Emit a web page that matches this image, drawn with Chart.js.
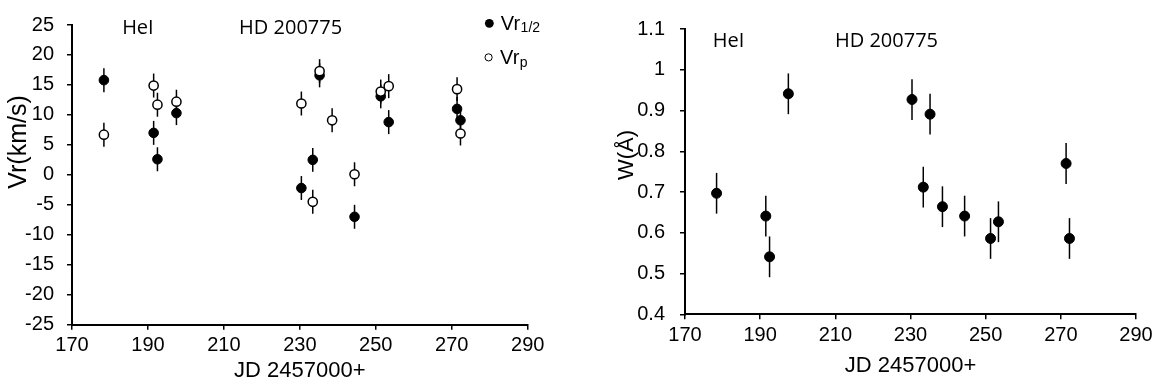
<!DOCTYPE html>
<html>
<head>
<meta charset="utf-8">
<script src="https://cdn.jsdelivr.net/npm/chart.js@4.4.1/dist/chart.umd.min.js"></script>
<style>
  body { margin: 0; background: #fff; width: 1157px; height: 387px; overflow: hidden; position: relative; }
  #left { position: absolute; left: 0; top: 0; }
  #right { position: absolute; left: 575px; top: 0; }
</style>
</head>
<body>
<canvas id="left" width="575" height="387"></canvas>
<canvas id="right" width="582" height="387"></canvas>
<script>
// observation dates, JD - 2457000
var jd = [178.4, 191.5, 192.5, 197.5, 230.4, 233.4, 235.2, 238.5, 244.4, 251.3, 253.4, 271.4, 272.3];
// radial velocities in km/s (null = no value that night)
var vrHalf = [15.8, 7.0, 2.6, 10.3, -2.2, 2.5, 16.6, null, -7.0, 13.1, 8.8, 11.0, 9.1];
var vrP = [6.7, 14.9, 11.7, 12.2, 11.9, -4.5, 17.3, 9.1, 0.1, 13.9, 14.8, 14.3, 6.9];
var vrErr = 2;
// equivalent width of HeI, Angstrom
var wHeI = [0.697, 0.641, 0.541, 0.941, 0.927, 0.712, 0.891, 0.664, 0.641, 0.586, 0.627, 0.770, 0.586];
var wErr = 0.05;

var jdTicks = [170, 190, 210, 230, 250, 270, 290];
var vrTicks = [-25, -20, -15, -10, -5, 0, 5, 10, 15, 20, 25];
var wTicks = [0.4, 0.5, 0.6, 0.7, 0.8, 0.9, 1.0, 1.1];

var xTitle = 'JD 2457000+';
var lineName = 'HeI';
var starName = 'HD 200775';

var ARIAL = '"Liberation Sans", Arial, sans-serif';
var CALIBRI = '"Open Sans", sans-serif';

function points(ys) {
    var out = [];
    for (var i = 0; i < jd.length; i++) {
        if (ys[i] !== null) out.push({x: jd[i], y: ys[i]});
    }
    return out;
}

// vertical error bars, drawn under the markers
var errorBars = {
    id: 'errorBars',
    beforeDatasetsDraw: function(chart) {
        var ctx = chart.ctx, xs = chart.scales.x, ys = chart.scales.y;
        ctx.save();
        ctx.strokeStyle = '#000';
        ctx.lineWidth = 1.5;
        chart.data.datasets.forEach(function(ds) {
            ds.data.forEach(function(p) {
                var px = xs.getPixelForValue(p.x);
                ctx.beginPath();
                ctx.moveTo(px, ys.getPixelForValue(p.y - ds.err));
                ctx.lineTo(px, ys.getPixelForValue(p.y + ds.err));
                ctx.stroke();
            });
        });
        ctx.restore();
    }
};

// texts inside the plot, the rotated y title and the little key
var notes = {
    id: 'notes',
    afterDraw: function(chart, args, opts) {
        var ctx = chart.ctx, xs = chart.scales.x, ys = chart.scales.y;
        ctx.save();
        ctx.fillStyle = '#000';
        ctx.textBaseline = 'alphabetic';
        (opts.texts || []).forEach(function(t) {
            ctx.font = t.font;
            ctx.fillText(t.text, xs.getPixelForValue(t.x), ys.getPixelForValue(t.y));
        });
        if (opts.yTitle) {
            var yt = opts.yTitle;
            ctx.save();
            ctx.translate(yt.px, yt.py);
            ctx.rotate(-Math.PI / 2);
            ctx.textAlign = 'center';
            ctx.textBaseline = 'middle';
            ctx.font = yt.font;
            ctx.fillText(yt.text, 0, 0);
            ctx.restore();
        }
        (opts.keys || []).forEach(function(k) {
            var cx = xs.getPixelForValue(k.x), cy = ys.getPixelForValue(k.y);
            ctx.beginPath();
            ctx.arc(cx, cy, k.r, 0, 2 * Math.PI);
            if (k.filled) {
                ctx.fillStyle = '#000';
                ctx.fill();
            } else {
                ctx.fillStyle = '#fff';
                ctx.fill();
                ctx.lineWidth = 1;
                ctx.strokeStyle = '#000';
                ctx.stroke();
            }
            ctx.fillStyle = '#000';
            ctx.font = '20px ' + ARIAL;
            var tx = cx + 11.5, ty = cy + 6.7;
            ctx.fillText(k.label, tx, ty);
            var w = ctx.measureText(k.label).width;
            ctx.font = '14px ' + ARIAL;
            ctx.fillText(k.sub, tx + w + 0.5, ty + k.subDy);
        });
        ctx.restore();
    }
};

function makeScales(yMin, yMax, yTicks, yFmt, yWidth, xHeight, yPad, titlePad) {
    var axisGrid = {display: true, drawOnChartArea: false, drawTicks: true, tickLength: 5, color: '#000', lineWidth: 1.5};
    var axisBorder = {display: true, color: '#000', width: 2};
    return {
        x: {
            type: 'linear', min: 170, max: 290,
            afterBuildTicks: function(s) { s.ticks = jdTicks.map(function(v) { return {value: v}; }); },
            afterFit: function(s) { s.height = xHeight; },
            grid: axisGrid, border: axisBorder,
            ticks: {color: '#000', font: {family: ARIAL, size: 20}, padding: 4, maxRotation: 0, autoSkip: false},
            title: {display: true, text: xTitle, color: '#000', font: {family: ARIAL, size: 22}, padding: {top: 0, bottom: titlePad}}
        },
        y: {
            type: 'linear', min: yMin, max: yMax,
            afterBuildTicks: function(s) { s.ticks = yTicks.map(function(v) { return {value: v}; }); },
            afterFit: function(s) { s.width = yWidth; },
            grid: axisGrid, border: axisBorder,
            ticks: {color: '#000', font: {family: ARIAL, size: 20}, padding: yPad, autoSkip: false, callback: yFmt}
        }
    };
}

Chart.defaults.animation = false;

new Chart(document.getElementById('left'), {
    type: 'scatter',
    data: {
        datasets: [
            {label: 'Vr p', data: points(vrP), err: vrErr, pointRadius: 4.6, pointHoverRadius: 4.6,
             backgroundColor: '#fff', borderColor: '#000', borderWidth: 1.5},
            {label: 'Vr 1/2', data: points(vrHalf), err: vrErr, pointRadius: 4.8, pointHoverRadius: 4.8,
             backgroundColor: '#000', borderColor: '#000', borderWidth: 1}
        ]
    },
    options: {
        responsive: false,
        devicePixelRatio: 1,
        layout: {padding: {top: 15.7, right: 47.3, left: 0, bottom: 0}},
        scales: makeScales(-25, 25, vrTicks, function(v) { return String(v); }, 72, 62.3, 13, 2.8),
        plugins: {
            legend: {display: false},
            tooltip: {enabled: false},
            notes: {
                texts: [
                    {text: lineName, x: 183.2, y: 23.5, font: '20px ' + CALIBRI},
                    {text: starName, x: 214.0, y: 23.5, font: '20px ' + CALIBRI}
                ],
                yTitle: {text: 'Vr(km/s)', px: 19, py: 142, font: '25px ' + ARIAL},
                keys: [
                    {filled: true, r: 4.4, x: 279.9, y: 25.28, label: 'Vr', sub: '1/2', subDy: 1.5},
                    {filled: false, r: 3.6, x: 279.7, y: 19.6, label: 'Vr', sub: 'p', subDy: 3}
                ]
            }
        }
    },
    plugins: [errorBars, notes]
});

new Chart(document.getElementById('right'), {
    type: 'scatter',
    data: {
        datasets: [
            {label: 'W', data: points(wHeI), err: wErr, pointRadius: 5, pointHoverRadius: 5,
             backgroundColor: '#000', borderColor: '#000', borderWidth: 1}
        ]
    },
    options: {
        responsive: false,
        devicePixelRatio: 1,
        layout: {padding: {top: 29, right: 21, left: 0, bottom: 0}},
        scales: makeScales(0.4, 1.1, wTicks, function(v) { return String(Math.round(v * 10) / 10); }, 110, 72.7, 15, 7.8),
        plugins: {
            legend: {display: false},
            tooltip: {enabled: false},
            notes: {
                texts: [
                    {text: lineName, x: 177.4, y: 1.056, font: '20px ' + CALIBRI},
                    {text: starName, x: 209.9, y: 1.056, font: '20px ' + CALIBRI}
                ],
                yTitle: {text: 'W(Å)', px: 52, py: 155, font: '22px ' + ARIAL}
            }
        }
    },
    plugins: [errorBars, notes]
});
</script>
</body>
</html>
